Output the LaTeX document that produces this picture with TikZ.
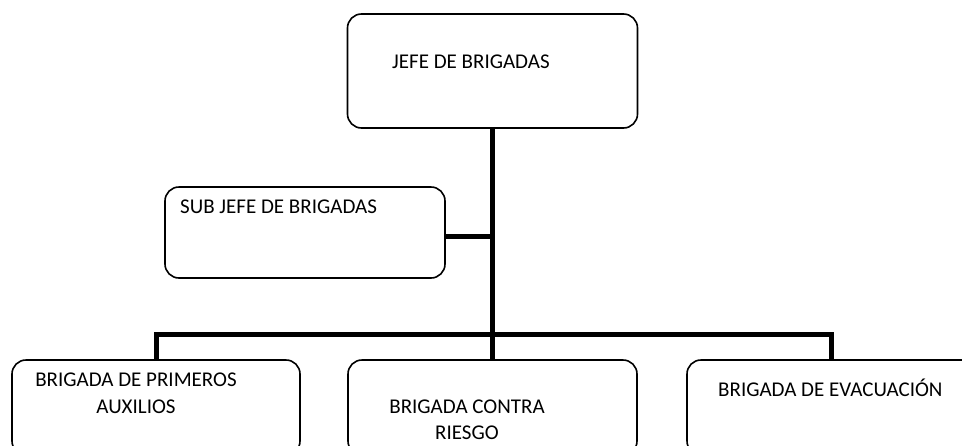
\documentclass[tikz,border=0pt]{standalone}
\usepackage{fontspec}
\setmainfont{Carlito}

\begin{document}
\begin{tikzpicture}[x=1pt,y=-1pt]
\tikzstyle{box}=[draw,rectangle,rounded corners=14pt,line width=1.6pt,inner sep=0pt]
\tikzstyle{boxtext}=[inner sep=0pt,align=center,font=\fontsize{21}{26.5}\selectfont]
\tikzstyle{bar}=[line width=5pt]
\useasboundingbox (0,0) rectangle (962,445);
\clip (0,0) rectangle (962,445);

\node[box,minimum width=290pt,minimum height=114pt] (jefe) at (492.5,71) {};
\node[box,minimum width=280pt,minimum height=91pt] (sub) at (305,232.5) {};
\node[box,minimum width=288pt,minimum height=95pt] (primeros) at (156,407.5) {};
\node[box,minimum width=289pt,minimum height=95pt] (contra) at (492.5,407.5) {};
\node[box,minimum width=289pt,minimum height=95pt] (evac) at (831.5,407.5) {};

\node[boxtext,anchor=base west] (jefetxt) at (392,68) {JEFE DE BRIGADAS};
\node[boxtext,anchor=base west] (subtxt) at (180,213) {SUB JEFE DE BRIGADAS};
\node[boxtext] (primerostxt) at (136,393.5) {BRIGADA DE PRIMEROS\\AUXILIOS};
\node[boxtext] (contratxt) at (467,420) {BRIGADA CONTRA\\RIESGO};
\node[boxtext,anchor=base west] (evactxt) at (718,396) {BRIGADA DE EVACUACIÓN};

% conectores
\draw[bar] (jefe.south) -- (contra.north);
\draw[bar] ([yshift=-4pt]sub.east) -- ([yshift=-4pt]sub.east -| jefe.south);
\draw[bar] (primeros.north) -- ++(0,-25) -| (evac.north);
\end{tikzpicture}
\end{document}
